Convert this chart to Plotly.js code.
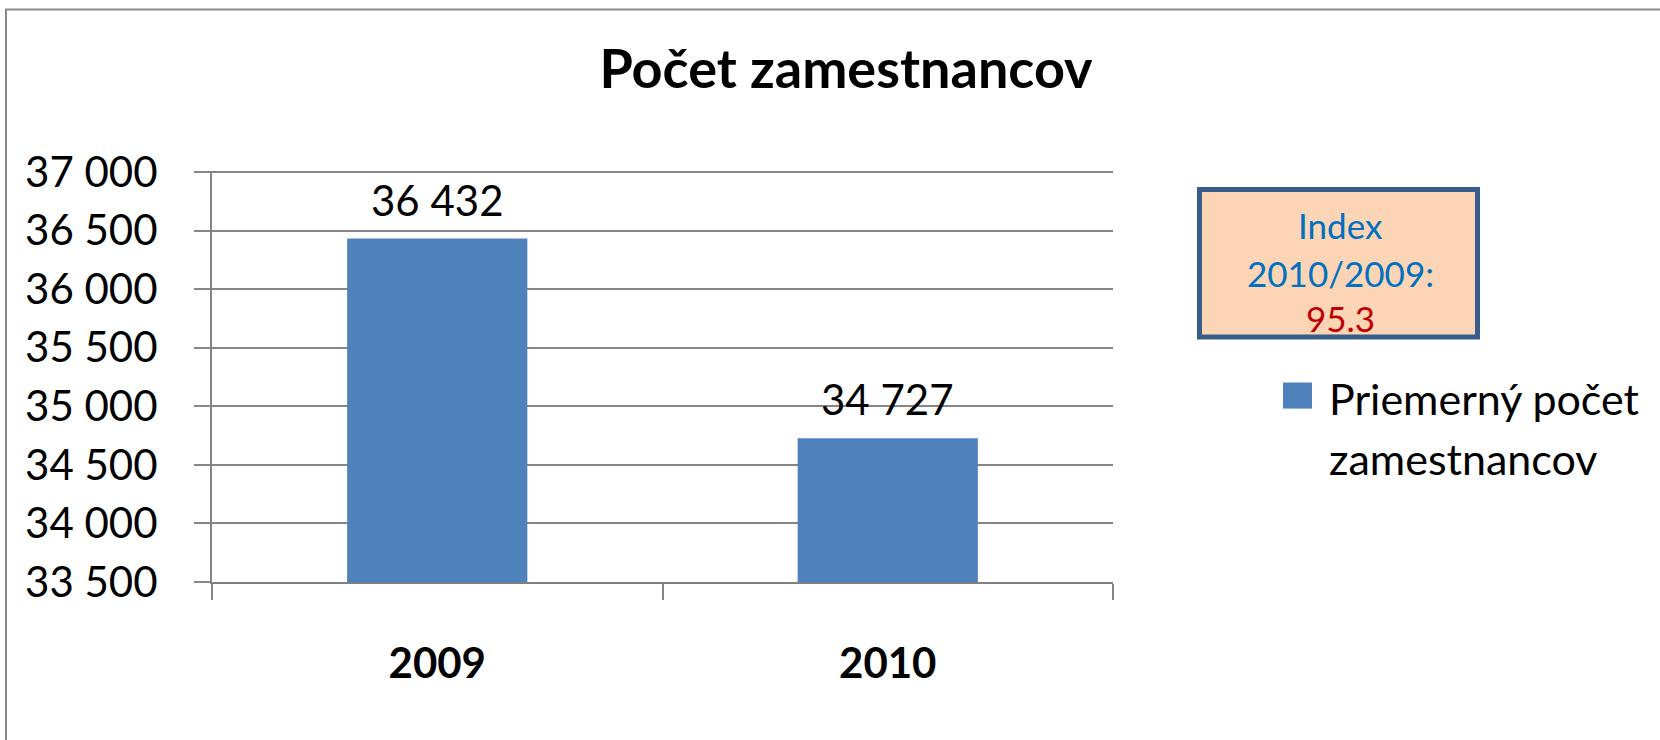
<!DOCTYPE html>
<html>
<head>
<meta charset="utf-8">
<script src="https://cdn.plot.ly/plotly-3.0.1.min.js"></script>
<style>
  html, body { margin: 0; padding: 0; background: #ffffff; }
  #chart { width: 1660px; height: 740px; }
</style>
</head>
<body>
<div id="chart"></div>
<script>
// ---- data ----
const categories = ["2009", "2010"];
const employees = [36432, 34727];
const seriesName = ["Priemerný počet", "zamestnancov"];
const chartTitle = "Počet zamestnancov";
const indexLabel = ["Index", "2010/2009:"];
const indexValue = ["95.3"];
const yTickValues = [33500, 34000, 34500, 35000, 35500, 36000, 36500, 37000];

// ---- helpers ----
const FONT = "Lato, 'Open Sans', sans-serif";
const L = 212, R = 1113, T = 172, B = 582;
const W = 1660, H = 740;
const px = x => (x - L) / (R - L);
const py = y => (B - y) / (B - T);
const fmt = v => String(v).replace(/\B(?=(\d{3})+(?!\d))/g, " ");

const trace = {
  type: "bar",
  x: categories,
  y: employees,
  name: seriesName.join(" "),
  marker: { color: "#4F81BD", line: { width: 0 } },
  width: 0.4,
  showlegend: false,
  hoverinfo: "skip"
};

const annotations = [];
// data labels (x = category index on the category axis)
categories.forEach((c, i) => {
  annotations.push({
    x: i, y: employees[i], xref: "x", yref: "y",
    text: fmt(employees[i]), showarrow: false,
    xanchor: "center", yanchor: "bottom", yshift: 12,
    font: { family: FONT, size: 42, color: "#000000" }
  });
});
// index box text
const idxY = [225.5, 273.5, 318.5];
indexLabel.forEach((t, i) => {
  annotations.push({
    x: px(1340), y: py(idxY[i]), xref: "paper", yref: "paper",
    text: t, showarrow: false, xanchor: "center", yanchor: "middle",
    font: { family: FONT, size: 35, color: "#0070C0" }
  });
});
annotations.push({
  x: px(1340), y: py(idxY[2]), xref: "paper", yref: "paper",
  text: indexValue[0], showarrow: false, xanchor: "center", yanchor: "middle",
  font: { family: FONT, size: 35, color: "#C00000" }
});
// legend text
const legY = [398.5, 458.5];
seriesName.forEach((t, i) => {
  annotations.push({
    x: px(1327), y: py(legY[i]), xref: "paper", yref: "paper",
    text: t, showarrow: false, xanchor: "left", yanchor: "middle",
    font: { family: FONT, size: 43, color: "#000000" }
  });
});

const shapes = [
  // outer chart frame (left + top edges visible)
  { type: "path", xref: "paper", yref: "paper",
    path: `M ${px(6)} ${py(H + 5)} L ${px(6)} ${py(11)} L ${px(W + 5)} ${py(11)}`,
    line: { color: "#898989", width: 2 } },
  // index box
  { type: "rect", xref: "paper", yref: "paper",
    x0: px(1199.5), x1: px(1477.5), y0: py(337.5), y1: py(190.5),
    fillcolor: "#FBD5B5", line: { color: "#385D8A", width: 5 }, layer: "below" },
  // legend key
  { type: "rect", xref: "paper", yref: "paper",
    x0: px(1283), x1: px(1312), y0: py(409), y1: py(383),
    fillcolor: "#4F81BD", line: { width: 0 } }
];

const yMin = yTickValues[0], yMax = yTickValues[yTickValues.length - 1];

const layout = {
  width: W, height: H,
  paper_bgcolor: "#ffffff", plot_bgcolor: "#ffffff",
  margin: { l: L, r: W - R, t: T - 1, b: H - B, pad: 0 },
  separators: ". ",
  showlegend: false,
  title: {
    text: chartTitle,
    font: { family: FONT, size: 54, color: "#000000", weight: "bold" },
    x: px(846), xref: "paper", xanchor: "center",
    y: 1 - 69 / H, yref: "container", yanchor: "middle"
  },
  xaxis: {
    type: "category",
    range: [-0.5, categories.length - 0.5],
    autorange: false,
    showgrid: false, zeroline: false,
    showline: true, linecolor: "#808080", linewidth: 2,
    ticks: "outside", tickson: "boundaries", ticklen: 16, tickwidth: 2, tickcolor: "#868686",
    tickfont: { family: FONT, size: 42, color: "#000000", weight: "bold" },
    tickangle: 0,
    ticklabelstandoff: 44,
    fixedrange: true
  },
  yaxis: {
    range: [yMin, yMax + 9],
    autorange: false,
    tickvals: yTickValues,
    ticktext: yTickValues.map(fmt),
    showgrid: true, gridcolor: "#868686", gridwidth: 2,
    zeroline: false,
    showline: true, linecolor: "#868686", linewidth: 2,
    ticks: "outside", ticklen: 16, tickwidth: 2, tickcolor: "#868686",
    tickfont: { family: FONT, size: 42, color: "#000000" },
    ticklabelstandoff: 28,
    fixedrange: true
  },
  annotations: annotations,
  shapes: shapes
};

Plotly.newPlot("chart", [trace], layout, { staticPlot: true, displayModeBar: false });
</script>
</body>
</html>
